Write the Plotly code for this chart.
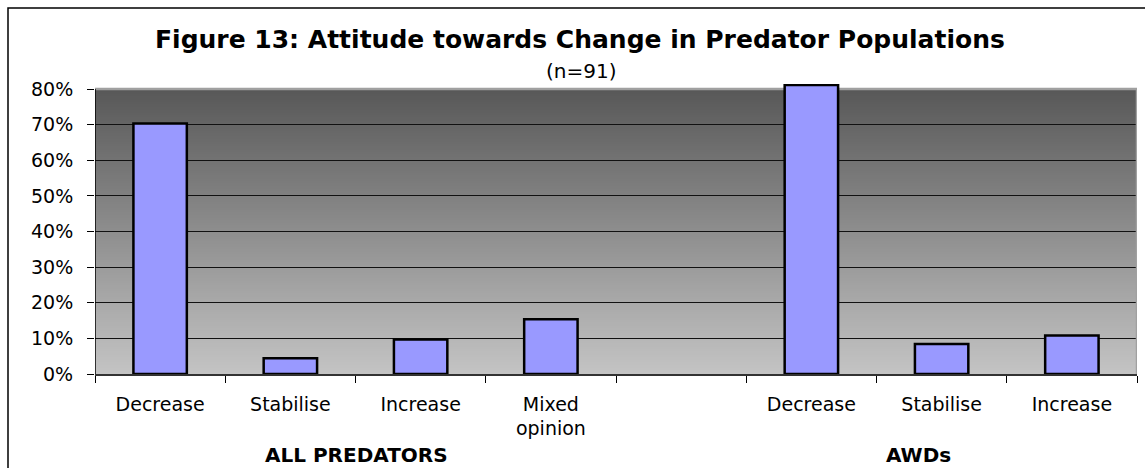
import base64
import struct
import zlib

import plotly.graph_objects as go

# ---- data ----
categories = ["Decrease", "Stabilise", "Increase", "Mixed<br>opinion", "",
              "Decrease", "Stabilise", "Increase"]
values = [70.3, 4.4, 9.7, 15.4, None, 81.1, 8.4, 10.8]
y_ticks = [0, 10, 20, 30, 40, 50, 60, 70, 80]
y_tick_labels = [f"{v}%" for v in y_ticks]
groups = ["ALL PREDATORS", "AWDs"]
group_centers = [1.51, 5.82]

FONT = "Verdana, DejaVu Sans, sans-serif"
W, H = 1145, 468
Y_MAX = 80                     # top of the drawn plot area (80%)
PX_PER_UNIT = 285 / 80         # vertical scale of the reference
HEADROOM = 5                   # px above 80% so the tallest bar can overflow
ML, MR, MB = 95, 8, 94
MT = 89 - HEADROOM
PW = W - ML - MR
PH = H - MT - MB
Y_RANGE_TOP = Y_MAX + HEADROOM / PX_PER_UNIT


def gradient_png(top, bottom, n=256):
    rows = b""
    for i in range(n):
        t = i / (n - 1)
        c = bytes(round(top[k] + (bottom[k] - top[k]) * t) for k in range(3))
        rows += b"\x00" + c

    def chunk(tag, data):
        return (struct.pack(">I", len(data)) + tag + data
                + struct.pack(">I", zlib.crc32(tag + data) & 0xFFFFFFFF))

    ihdr = struct.pack(">IIBBBBB", 1, n, 8, 2, 0, 0, 0)
    png = (b"\x89PNG\r\n\x1a\n" + chunk(b"IHDR", ihdr)
           + chunk(b"IDAT", zlib.compress(rows)) + chunk(b"IEND", b""))
    return "data:image/png;base64," + base64.b64encode(png).decode()


xpos = list(range(len(categories)))
n = len(categories)
x_lo, x_hi = -0.5, n - 0.5

fig = go.Figure()
fig.add_trace(go.Bar(
    x=xpos, y=values, width=0.41,
    marker=dict(color="#9999FF", line=dict(color="black", width=2.5)),
    cliponaxis=False, hoverinfo="y",
))


def y_paper(px_from_top):
    return (H - MB - px_from_top) / PH


fig.update_layout(
    width=W, height=H,
    margin=dict(l=ML, r=MR, t=MT, b=MB),
    paper_bgcolor="white", plot_bgcolor="rgba(0,0,0,0)",
    showlegend=False,
    font=dict(family=FONT, size=19, color="black"),
    xaxis=dict(
        range=[x_lo, x_hi],
        tickmode="array", tickvals=xpos, ticktext=categories,
        ticks="", showgrid=False, zeroline=False,
        showline=True, linecolor="#333333", linewidth=1.5,
        minor=dict(tickmode="linear", tick0=-0.5, dtick=1, ticks="outside",
                   ticklen=7, tickwidth=1, tickcolor="black", showgrid=False),
        tickfont=dict(family=FONT, size=19, color="black"),
        ticklabelstandoff=12,
        fixedrange=True,
    ),
    yaxis=dict(
        range=[0, Y_RANGE_TOP],
        tickmode="array", tickvals=y_ticks, ticktext=y_tick_labels,
        ticks="outside", ticklen=7, tickcolor="black", tickwidth=1,
        showgrid=True, gridcolor="#111111", gridwidth=1,
        zeroline=False, showline=False,
        tickfont=dict(family=FONT, size=19, color="black"),
        ticklabelstandoff=10,
        fixedrange=True,
    ),
    images=[dict(
        source=gradient_png((88, 88, 88), (196, 196, 196)),
        xref="x", yref="y", x=x_lo, y=Y_MAX, sizex=n, sizey=Y_MAX,
        sizing="stretch", xanchor="left", yanchor="top", layer="below",
    )],
    shapes=[
        # outer chart frame
        dict(type="rect", xref="paper", yref="paper",
             x0=(8 - ML) / PW, x1=(W + 20 - ML) / PW,
             y0=-(MB + 20) / PH, y1=y_paper(8),
             line=dict(color="black", width=1.5), fillcolor="rgba(0,0,0,0)",
             layer="below"),
        # plot area top/right border (light grey)
        dict(type="path", xref="x", yref="y",
             path=f"M {x_lo} {Y_MAX} L {x_hi} {Y_MAX} L {x_hi} 0",
             line=dict(color="#a0a0a0", width=2.5), layer="between"),
        # y axis line (only up to 80%)
        dict(type="line", xref="x", yref="y", x0=x_lo, x1=x_lo, y0=0, y1=Y_MAX,
             line=dict(color="black", width=1.5), layer="between"),
    ],
    annotations=[
        dict(text="<b>Figure 13: Attitude towards Change in Predator Populations</b>",
             xref="paper", yref="paper", x=(580 - ML) / PW, y=y_paper(40),
             xanchor="center", yanchor="middle", showarrow=False,
             font=dict(family=FONT, size=25, color="black")),
        dict(text="(n=91)",
             xref="paper", yref="paper", x=(581 - ML) / PW, y=y_paper(71),
             xanchor="center", yanchor="middle", showarrow=False,
             font=dict(family=FONT, size=20, color="black")),
    ] + [
        dict(text=f"<b>{g}</b>", xref="x", yref="paper", x=cx,
             y=y_paper(455), xanchor="center", yanchor="middle",
             showarrow=False, font=dict(family=FONT, size=20, color="black"))
        for g, cx in zip(groups, group_centers)
    ],
)

fig.write_html("out.html",
               config={"displayModeBar": False},
               post_script="document.body.style.margin='0';"
                           "document.body.style.padding='0';")
